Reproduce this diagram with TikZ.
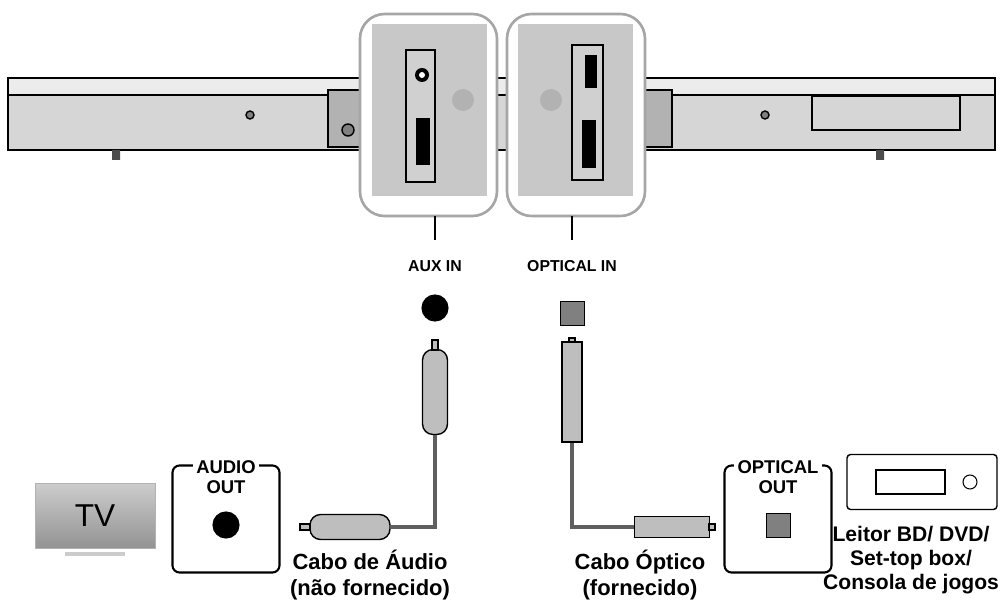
\documentclass[tikz,border=0pt]{standalone}
\usepackage{fontspec}
\setmainfont{Liberation Sans}
\usetikzlibrary{positioning}
\definecolor{barfill}{RGB}{214,214,214}
\definecolor{bartop}{RGB}{236,236,236}
\definecolor{panel}{RGB}{200,200,200}
\definecolor{plug}{RGB}{190,190,190}
\definecolor{cord}{RGB}{95,95,95}
\tikzset{
  label/.style={font=\bfseries\fontsize{12.5}{14.5}\selectfont, align=center, inner sep=1pt},
  small/.style={font=\bfseries\fontsize{9}{10}\selectfont, inner sep=1pt, fill=white},
  boxtitle/.style={font=\bfseries\fontsize{10.5}{11}\selectfont, inner sep=2pt, fill=white, align=center, anchor=north},
  portbox/.style={draw, line width=1.2pt, rounded corners=4pt, minimum width=2.14cm, minimum height=2.14cm},
  zoombox/.style={draw=gray!70, line width=1.5pt, fill=white, rounded corners=14pt},
  cable/.style={draw=cord, line width=2.5pt},
  plugpart/.style={draw=black, line width=0.8pt, fill=plug}
}
\begin{document}
\begin{tikzpicture}[x=0.02cm, y=-0.02cm]
  \useasboundingbox (0,0) rectangle (1004,604);
  % soundbar
  \draw[line width=1pt, fill=barfill] (8,78) rectangle (995,150);
  \fill[bartop] (9,79) rectangle (994,95);
  \draw[line width=0.6pt] (8,95) -- (995,95);
  \fill[black!70] (112,150) rectangle (120,160) (876,150) rectangle (884,160);
  \draw[line width=0.8pt, fill=gray] (250,115) circle (4) (765,115) circle (4);
  \draw[line width=0.8pt] (812,96) rectangle (960,130);
  \draw[line width=0.8pt, fill=gray!60] (328,90) rectangle (362,147) (640,90) rectangle (672,147);
  \draw[line width=0.8pt, fill=gray] (348,130) circle (6);
  % zoomed panels
  \draw[zoombox] (360,14) rectangle (497,216);
  \draw[zoombox] (507,14) rectangle (645,216);
  \fill[panel] (372,24) rectangle (487,196);
  \fill[panel] (518,24) rectangle (633,196);
  \draw[line width=0.8pt, fill=panel!85] (406,50) rectangle (435,182);
  \draw[line width=0.8pt, fill=panel!85] (572,45) rectangle (603,180);
  \fill[black] (422,75) circle (7);
  \fill[white] (422,75) circle (3);
  \fill[black] (416,118) rectangle (430,165);
  \fill[black] (585,55) rectangle (597,88);
  \fill[black] (582,120) rectangle (596,168);
  \fill[gray!60] (463,100) circle (11) (551,100) circle (11);
  % connector lines
  \coordinate (auxtop) at (435,216);
  \coordinate (opttop) at (572,216);
  \node[small] (auxin) at (435,266) {AUX IN};
  \node[small] (optin) at (572,266) {OPTICAL IN};
  \draw[line width=1pt] (auxtop) -- ++(0,24);
  \draw[line width=1pt] (opttop) -- ++(0,24);
  % input sockets
  \node[circle, draw, line width=1.2pt, fill=black, minimum size=0.5cm] (auxjack) at (435,308) {};
  \node[draw, fill=gray, minimum size=0.48cm] (optjack) at (572,313) {};
  % audio cable
  \node[plugpart, rounded corners=6pt, minimum width=0.5cm, minimum height=1.7cm] (audioplug) at (435,392) {};
  \draw[plugpart] (432,340) rectangle (438,350);
  \node[plugpart, rounded corners=6pt, minimum width=1.6cm, minimum height=0.5cm] (audioplugb) at (350,527) {};
  \draw[plugpart] (300,524) rectangle (310,530);
  \draw[cable] (audioplug.south) |- (audioplugb.east);
  % optical cable
  \node[plugpart, minimum width=0.4cm, minimum height=2cm] (optplug) at (572,392) {};
  \draw[plugpart] (569,338) rectangle (575,342);
  \node[plugpart, minimum width=1.5cm, minimum height=0.42cm] (optplugb) at (672,527) {};
  \draw[plugpart] (709,524) rectangle (715,530);
  \draw[cable] (optplug.south) |- (optplugb.west);
  % tv
  \node[draw=gray!60, top color=gray!40, bottom color=gray!85, minimum width=2.4cm, minimum height=1.3cm,
        font=\fontsize{18}{20}\selectfont] (tv) at (95,516) {TV};
  \draw[line width=2pt, gray!40] (65,554) -- (125,554);
  % port boxes
  \node[portbox] (audioout) at (226,519) {};
  \node[boxtitle] at (226,457) {AUDIO\\OUT};
  \node[circle, draw, line width=1.2pt, fill=black, minimum size=0.5cm] (outjack) at (226,525) {};
  \node[portbox] (opticalout) at (778,519) {};
  \node[boxtitle] at (778,457) {OPTICAL\\OUT};
  \node[draw, fill=gray, minimum size=0.48cm] (outopt) at (778,525) {};
  % player
  \node[draw, line width=0.8pt, minimum width=3cm, minimum height=1.1cm, rounded corners=2pt] (player) at (922,482) {};
  \draw[line width=0.6pt] (876,470) rectangle (945,494);
  \draw[line width=0.6pt] (970,482) circle (7);
  % labels
  \node[label] (audiocap) at (370,575) {Cabo de Áudio\\(não fornecido)};
  \node[label] (opticap) at (640,575) {Cabo Óptico\\(fornecido)};
  \node[label, font=\bfseries\fontsize{12}{13.5}\selectfont, anchor=east] (playercap) at (1001,560) {Leitor BD/ DVD/\\Set-top box/\\Consola de jogos};
\end{tikzpicture}
\end{document}
